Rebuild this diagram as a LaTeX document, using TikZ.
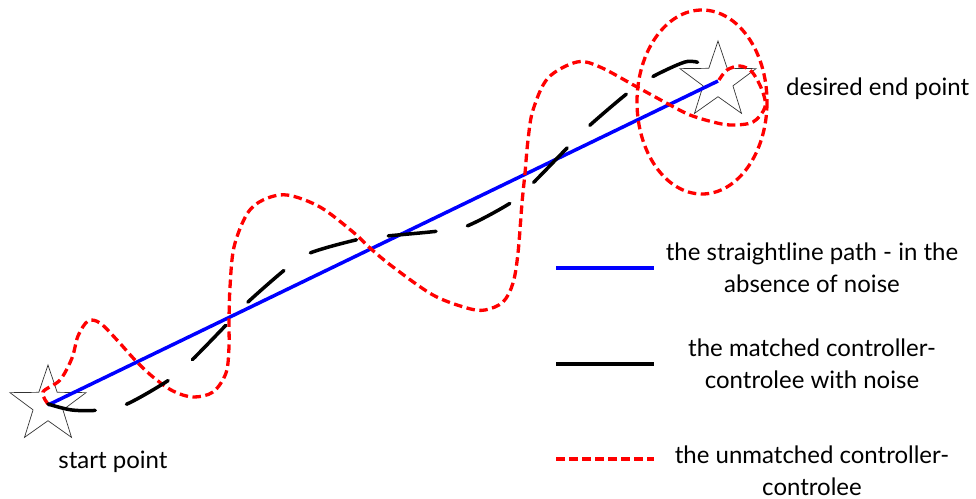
\documentclass[tikz,border=0pt]{standalone}
\usepackage{fontspec}
\setmainfont{Lato}
\usetikzlibrary{shapes.geometric}
\tikzset{
  starnode/.style={draw=black!80, line width=0.7pt, shape=star, star points=5, star point ratio=2.55, minimum size=80pt, inner sep=0pt},
  bluepath/.style={draw=blue, line width=3.5pt},
  blackpath/.style={draw=black, line width=3.5pt, line cap=round, dash pattern=on 48pt off 32pt},
  redpath/.style={draw=red, line width=3.3pt, dash pattern=on 8.5pt off 4.5pt},
  lbl/.style={font=\fontsize{24}{32}\selectfont, align=center, inner sep=0pt},
}
\begin{document}
\begin{tikzpicture}[x=1pt,y=-1pt]
\useasboundingbox (0,0) rectangle (976,498);
% stars
\node[starnode] (s) at (48,405) {};
\node[starnode] (e) at (718,81) {};
% labels
\node[lbl] (startlbl) at (113,462) {start point};
\node[lbl, anchor=west] (endlbl) at (786,89) {desired end point};
% straight path
\draw[bluepath] (s.center) -- (e.center);
% unmatched (red)
\draw[redpath] plot[smooth, tension=0.55] coordinates {
 (48,404) (43,392) (60,380) (72,358) (78,336) (88,321) (100,323) (117,340)
 (135,360) (153,377) (173,391) (193,397) (213,392) (226,373) (229,347) (229,322)
 (230,287) (234,247) (247,214) (263,200) (287,195) (320,207) (353,232) (370,248)
 (393,267) (433,295) (467,308) (485,310) (503,302) (513,283) (518,253) (522,203)
 (525,173) (528,140) (533,110) (548,78) (577,62) (600,67) (637,87) (670,105)
 (690,115) (713,122) (731,125) (753,122) (765,107) (762,90) (752,72) (740,66)
 (727,70) (719,80)};
\draw[redpath] (702,102) ellipse [x radius=65, y radius=92];
% matched (black)
\draw[blackpath] plot[smooth, tension=0.55] coordinates {
 (48,404) (72,410) (100,410) (127,404) (172,378) (193,359) (229,322) (248,302)
 (287,268) (310,253) (360,239) (387,236) (439,231) (467,226) (512,202) (533,183)
 (569,146) (589,126) (629,92) (652,77) (685,62) (700,63)};
% legend
\coordinate (l1a) at (556,268); \coordinate (l1b) at (654,268);
\coordinate (l2a) at (556,364); \coordinate (l2b) at (654,364);
\coordinate (l3a) at (556,459); \coordinate (l3b) at (654,459);
\draw[bluepath] (l1a) -- (l1b);
\draw[draw=black, line width=3.5pt] (l2a) -- (l2b);
\draw[redpath] (l3a) -- (l3b);
\node[lbl] (t1) at (812,268) {the straightline path - in the\\absence of noise};
\node[lbl] (t2) at (812,364) {the matched controller-\\controlee with noise};
\node[lbl] (t3) at (812,471) {the unmatched controller-\\controlee};
\end{tikzpicture}
\end{document}
